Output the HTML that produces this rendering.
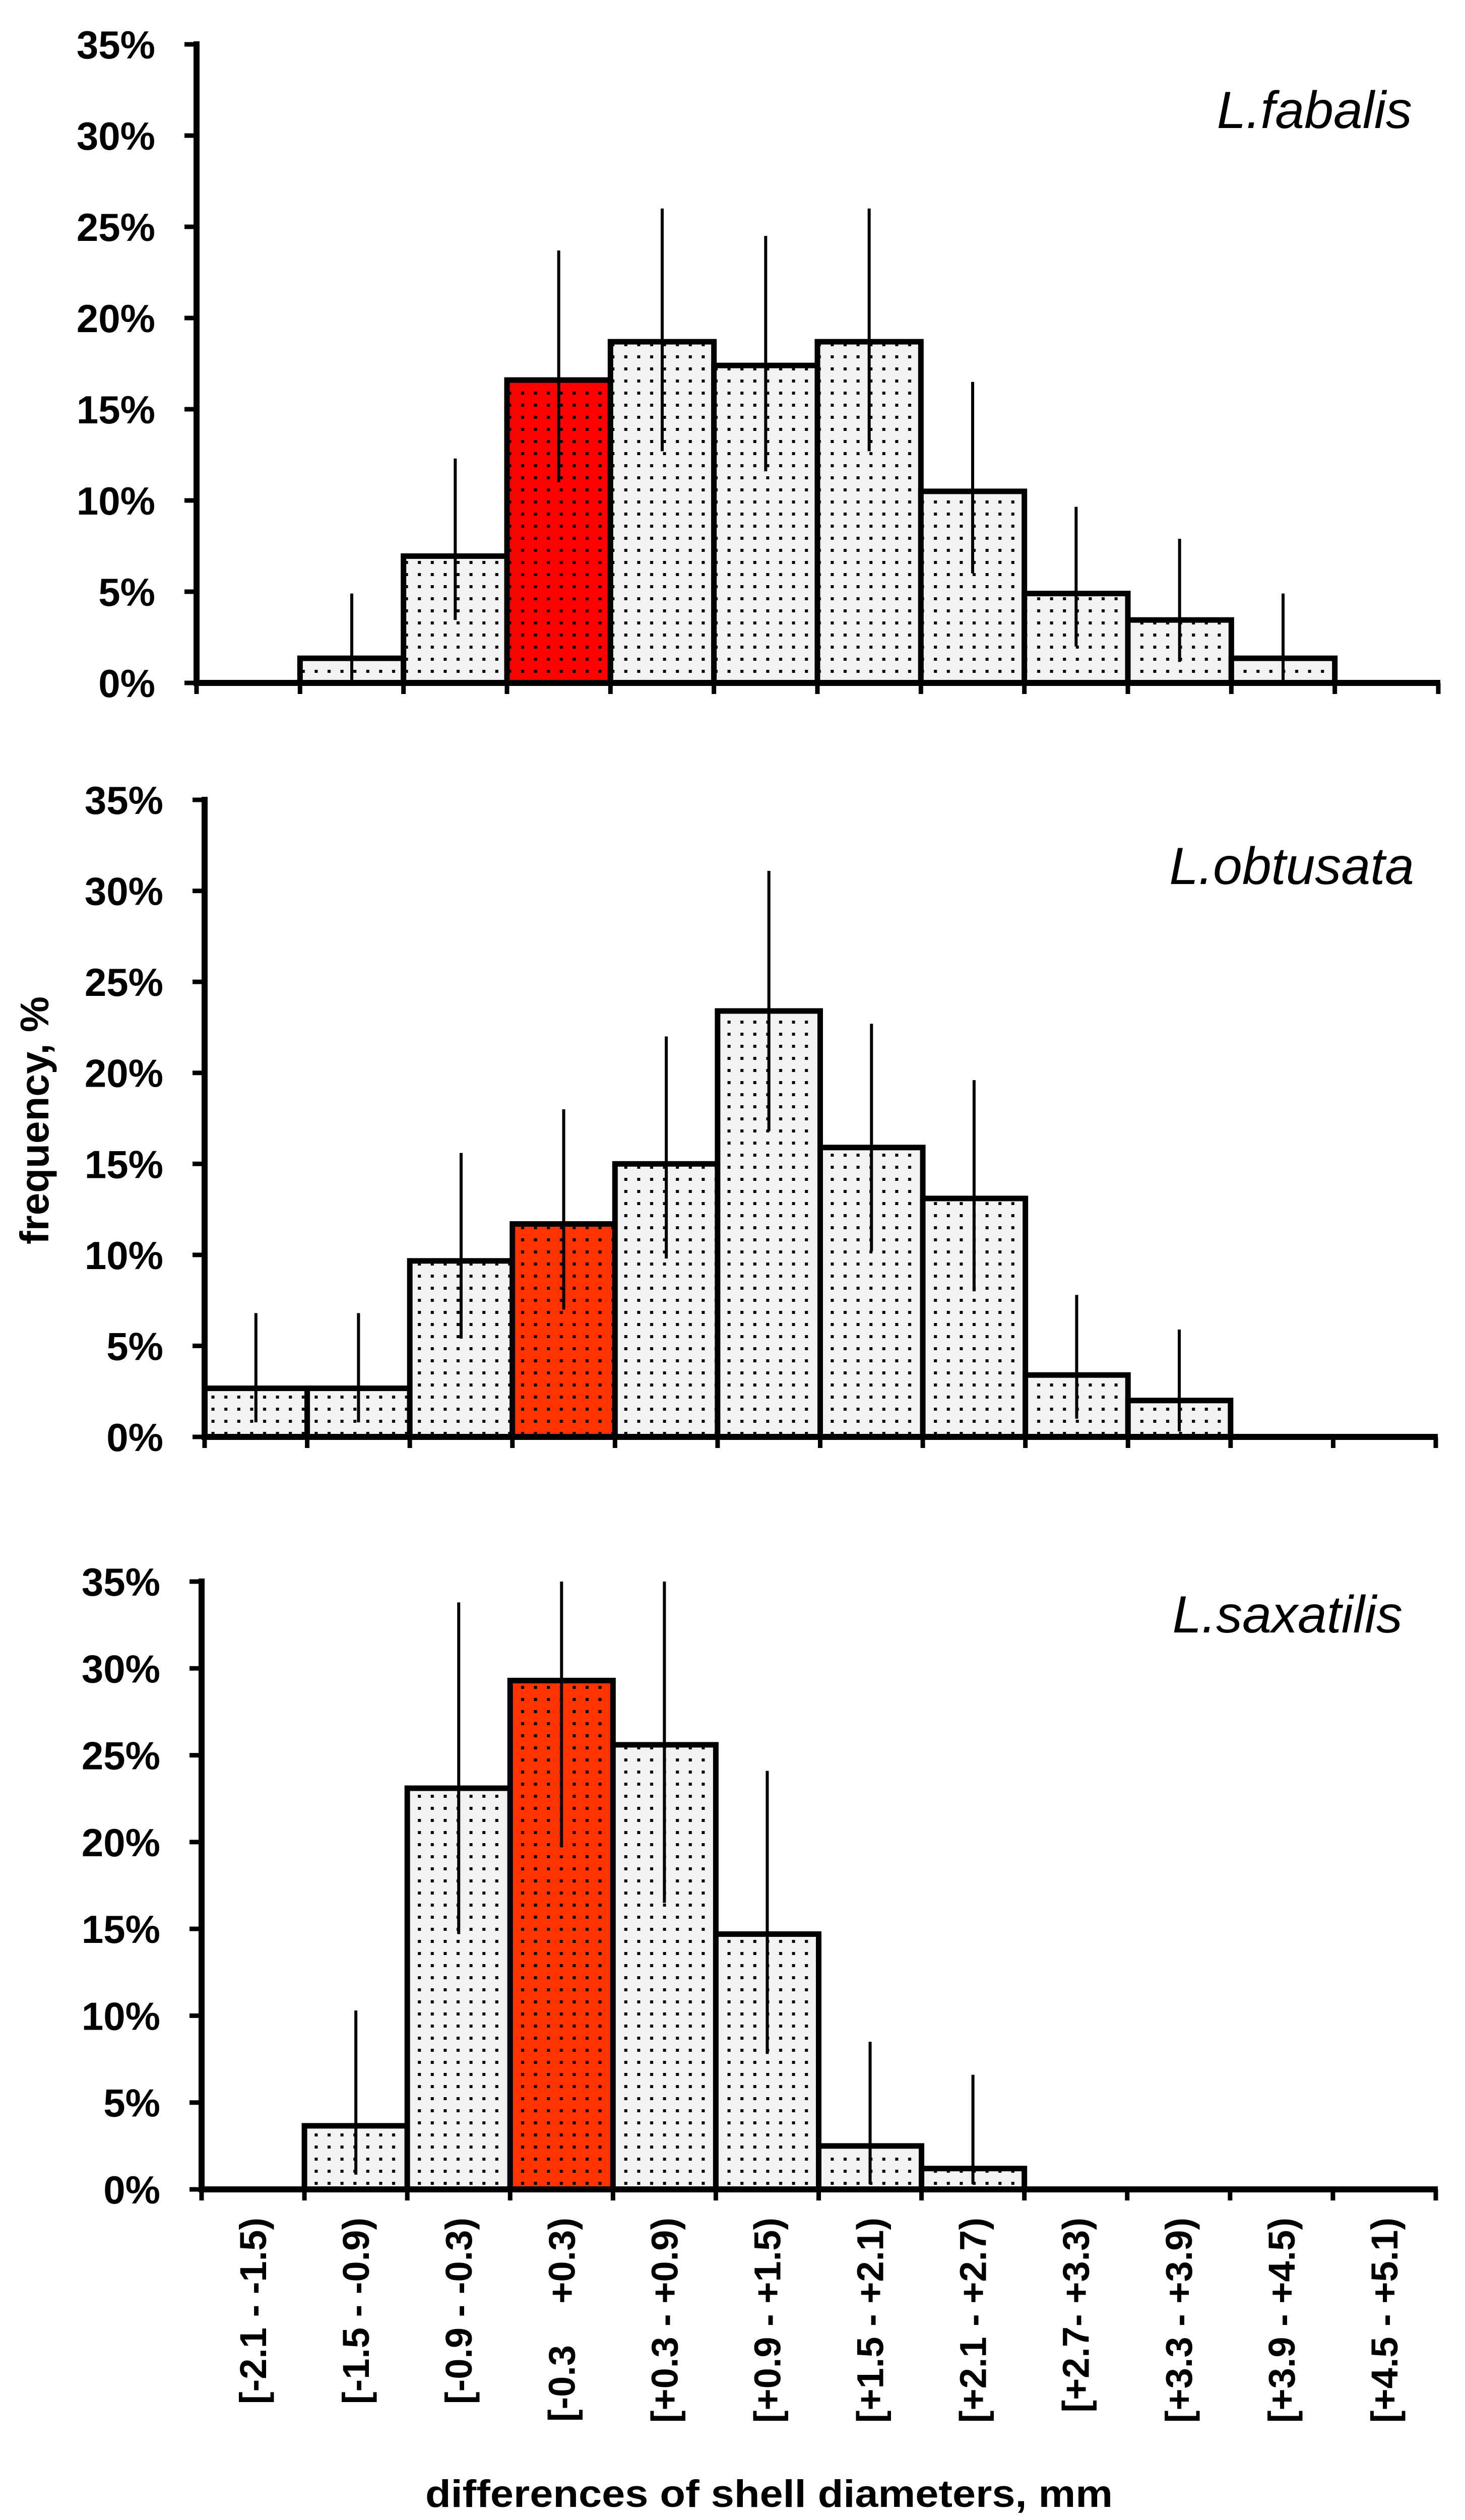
<!DOCTYPE html>
<html><head><meta charset="utf-8">
<style>
html,body{margin:0;padding:0;background:#fff;width:2907px;height:5010px;overflow:hidden;}
svg{display:block;}
text{font-family:"Liberation Sans",Arial,sans-serif;}
</style></head>
<body>
<svg id="chart" width="2907" height="5010" viewBox="0 0 2907 5010" xmlns="http://www.w3.org/2000/svg">
<defs>
<pattern id="dotsGrey" width="25.6" height="24" patternUnits="userSpaceOnUse">
<rect width="25.6" height="24" fill="#f2f2f2"/><rect x="10" y="9" width="6" height="6" fill="#000"/>
</pattern>
<pattern id="dotsRed" width="25.6" height="24" patternUnits="userSpaceOnUse">
<rect width="25.6" height="24" fill="#ff0000"/><rect x="10" y="9" width="6" height="6" fill="#000"/>
</pattern>
<pattern id="dotsOrange" width="25.6" height="24" patternUnits="userSpaceOnUse">
<rect width="25.6" height="24" fill="#ff3300"/><rect x="10" y="9" width="6" height="6" fill="#000"/>
</pattern>
</defs>
<g id="root"></g>
</svg>
<script>
const categories = ["[-2.1 - -1.5)","[-1.5 - -0.9)","[-0.9 - -0.3)","[-0.3    +0.3)","[+0.3 - +0.9)","[+0.9 - +1.5)","[+1.5 - +2.1)","[+2.1 - +2.7)","[+2.7- +3.3)","[+3.3 - +3.9)","[+3.9 - +4.5)","[+4.5 - +5.1)"];
const yTicks = [0,5,10,15,20,25,30,35];
const panelTitles = ["L.fabalis","L.obtusata","L.saxatilis"];
const fabalisValues = [0,1.35,6.95,16.6,18.7,17.4,18.7,10.5,4.9,3.45,1.35,0];
const fabalisErrHigh = [null,4.9,12.3,23.7,26.0,24.5,26.0,16.5,9.65,7.9,4.9,null];
const fabalisErrLow = [null,0.1,3.45,11.0,12.7,11.6,12.7,6.0,2.0,1.15,0.1,null];
const obtusataValues = [2.67,2.67,9.67,11.7,15.0,23.4,15.9,13.1,3.4,2.0,0,0];
const obtusataErrHigh = [6.8,6.8,15.6,18.0,22.0,31.1,22.7,19.6,7.8,5.9,null,null];
const obtusataErrLow = [0.8,0.8,5.4,7.0,9.8,16.8,10.2,8.0,1.0,0.3,null,null];
const saxatilisValues = [0,3.66,23.1,29.3,25.6,14.7,2.5,1.2,0,0,0,0];
const saxatilisErrHigh = [null,10.3,33.8,35,35,24.1,8.5,6.6,null,null,null,null];
const saxatilisErrLow = [null,0.85,14.7,19.7,16.5,7.8,0.3,0.3,null,null,null,null];
const highlightIndex = 3;

const NS = "http://www.w3.org/2000/svg";
const root = document.getElementById("root");
function mk(tag, attrs, parent){
  const e = document.createElementNS(NS, tag);
  for (const k in attrs) e.setAttribute(k, attrs[k]);
  (parent||root).appendChild(e);
  return e;
}
const panels = [
  {values:fabalisValues, hi:fabalisErrHigh, lo:fabalisErrLow, x0:390, x1:2854, y0:1355, y35:88, red:"url(#dotsRed)", tx:2802, ty:254},
  {values:obtusataValues, hi:obtusataErrHigh, lo:obtusataErrLow, x0:406, x1:2849, y0:2851, y35:1587, red:"url(#dotsOrange)", tx:2806, ty:1754},
  {values:saxatilisValues, hi:saxatilisErrHigh, lo:saxatilisErrLow, x0:400, x1:2849, y0:4344, y35:3138, red:"url(#dotsOrange)", tx:2783, ty:3239}
];
panels.forEach((p, pi) => {
  const g = mk("g", {});
  
  
  const bw = (p.x1 - p.x0) / categories.length;
  const xs = i => p.x0 + i * bw;
  const ys = v => p.y0 - (v / 35) * (p.y0 - p.y35);
  p.values.forEach((v, i) => {
    if (v <= 0) return;
    const r = mk("rect", {x:xs(i), y:ys(v), width:bw, height:p.y0 - ys(v), fill:(i===highlightIndex?p.red:"url(#dotsGrey)"), stroke:"#000", "stroke-width":11}, g);
    
    
  });
  p.values.forEach((v, i) => {
    if (p.hi[i] == null) return;
    const cx = xs(i) + bw / 2;
    const l = mk("line", {x1:cx, x2:cx, y1:ys(p.hi[i]), y2:ys(p.lo[i]), stroke:"#000", "stroke-width":6}, g);
    
    
  });
  const ya = mk("line", {x1:p.x0, x2:p.x0, y1:p.y35 - 6, y2:p.y0 + 6, stroke:"#000", "stroke-width":12}, g);
  
  
  const xa = mk("line", {x1:p.x0, x2:p.x1 + 4, y1:p.y0, y2:p.y0, stroke:"#000", "stroke-width":12}, g);
  
  
  for (let i = 0; i <= categories.length; i++) {
    const t = mk("line", {x1:xs(i), x2:xs(i), y1:p.y0, y2:p.y0 + 22, stroke:"#000", "stroke-width":9}, g);
    
    
  }
  yTicks.forEach(v => {
    const t = mk("line", {x1:p.x0 - 24, x2:p.x0, y1:ys(v), y2:ys(v), stroke:"#000", "stroke-width":9}, g);
    
    
    const tl = mk("text", {x:p.x0 - 82, y:ys(v) + 28, "text-anchor":"end", "font-size":78, "font-weight":"bold", fill:"#000"}, g);
    tl.textContent = v + "%";
    
    
  });
  const tt = mk("text", {x:p.tx, y:p.ty, "text-anchor":"end", "font-size":104, "font-style":"italic", fill:"#000"}, g);
  tt.textContent = panelTitles[pi];
  
  
  if (pi === 2) {
    categories.forEach((c, i) => {
      const cx = xs(i) + bw / 2 + 26;
      const lt = mk("text", {x:0, y:0, transform:"translate(" + cx + ",4400) rotate(-90)", "text-anchor":"end", "font-size":74, "font-weight":"bold", fill:"#000", style:"white-space:pre"}, g);
      lt.textContent = c;
      
      
    });
  }
});
const yt = mk("text", {x:0, y:0, transform:"translate(96,2223) rotate(-90)", "text-anchor":"middle", "font-size":80, "font-weight":"bold", fill:"#000"});
yt.textContent = "frequency, %";


const xt = mk("text", {x:1526, y:4974, "text-anchor":"middle", "font-size":76, "font-weight":"bold", fill:"#000", textLength:1364, lengthAdjust:"spacingAndGlyphs"});
xt.textContent = "differences of shell diameters, mm";


</script>
</body></html>
